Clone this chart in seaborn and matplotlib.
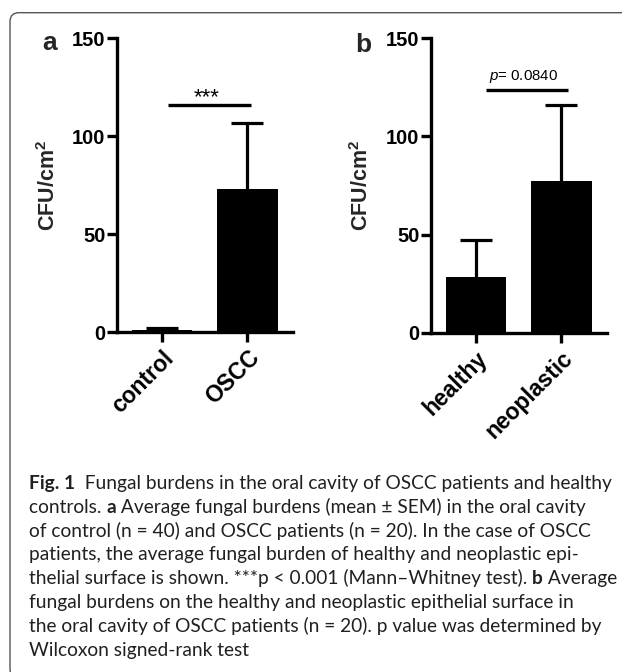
import numpy as np
import pandas as pd
import matplotlib
matplotlib.use("Agg")
import matplotlib.pyplot as plt
import seaborn as sns
from matplotlib.patches import FancyBboxPatch
from matplotlib.transforms import IdentityTransform

# ---------------- data ----------------
cats_a = ["control", "OSCC"]
mean_a = [1.2, 73.0]
sem_a = [1.0, 33.5]

cats_b = ["healthy", "neoplastic"]
mean_b = [28.5, 77.5]
sem_b = [19.0, 38.2]

yticks = [0, 50, 100, 150]
sig_a = "***"
sig_b = r"$\mathit{p}$= 0.0840"
ylabel = r"CFU/cm$^{2}$"

caption_lines = [
    [("Fig. 1", True), ("  Fungal burdens in the oral cavity of OSCC patients and healthy", False)],
    [("controls. ", False), ("a", True), (" Average fungal burdens (mean \u00b1 SEM) in the oral cavity", False)],
    [("of control (n = 40) and OSCC patients (n = 20). In the case of OSCC", False)],
    [("patients, the average fungal burden of healthy and neoplastic epi-", False)],
    [("thelial surface is shown. ***p < 0.001 (Mann\u2013Whitney test). ", False), ("b", True), (" Average", False)],
    [("fungal burdens on the healthy and neoplastic epithelial surface in", False)],
    [("the oral cavity of OSCC patients (n = 20). p value was determined by", False)],
    [("Wilcoxon signed-rank test", False)],
]

# ---------------- style ----------------
sns.set_theme(style="white")
plt.rcParams["font.family"] = ["Liberation Sans", "DejaVu Sans"]
plt.rcParams["mathtext.fontset"] = "custom"
plt.rcParams["mathtext.rm"] = "Liberation Sans"
plt.rcParams["mathtext.it"] = "Liberation Sans:italic"
plt.rcParams["mathtext.bf"] = "Liberation Sans:bold"
plt.rcParams["mathtext.default"] = "regular"

W, H = 622, 672
fig = plt.figure(figsize=(W / 100, H / 100), dpi=100)
fig.patch.set_facecolor("white")


def px_axes(l, t, r, b):
    return fig.add_axes([l / W, 1 - b / H, (r - l) / W, (b - t) / H])


def panel(ax, cats, means, sems, sx0, sx1, sy, stext, tx, ty, tsize):
    df = pd.DataFrame({"cat": cats, "val": means})
    sns.barplot(data=df, x="cat", y="val", color="black", width=0.7,
                errorbar=None, ax=ax, saturation=1, linewidth=0)
    _, caps, _ = ax.errorbar(x=np.arange(len(cats)), y=means,
                             yerr=[np.zeros(len(cats)), sems], fmt="none",
                             ecolor="black", elinewidth=2.3, capsize=11.5,
                             capthick=2.3, zorder=3)
    if len(caps) == 2:
        caps[0].set_visible(False)
    ax.plot([sx0, sx1], [sy, sy], color="black", lw=2.4,
            solid_capstyle="butt", clip_on=False)
    ax.text(tx, ty, stext, ha="center", va="baseline", fontsize=tsize,
            color="black", clip_on=False)
    ax.set_ylim(0, 150)
    ax.set_xlim(-0.52, 1.53)
    ax.set_yticks(yticks)
    ax.set_yticklabels([str(v) for v in yticks], fontweight="bold", fontsize=14.5)
    ax.set_xticks(range(len(cats)))
    ax.set_xticklabels(cats, rotation=45, ha="right", rotation_mode="anchor",
                       fontweight="bold", fontsize=16.5)
    ax.set_xlabel("")
    ax.set_ylabel("")
    for s in ["top", "right"]:
        ax.spines[s].set_visible(False)
    for s in ["left", "bottom"]:
        ax.spines[s].set_linewidth(2.4)
        ax.spines[s].set_color("black")
        ax.spines[s].set_zorder(4)
    ax.tick_params(axis="both", direction="out", length=7.2, width=2.4,
                   color="black", pad=1, left=True, bottom=True,
                   labelcolor="black")
    ax.tick_params(axis="x", pad=3)
    ax.set_facecolor("none")


ax_a = px_axes(117, 38, 293, 332)
ax_b = px_axes(431, 38, 607, 333)

panel(ax_a, cats_a, mean_a, sem_a, 0.07, 1.035, 116, sig_a, 0.52, 116.5, 16)
panel(ax_b, cats_b, mean_b, sem_b, 0.115, 1.07, 123.7, sig_b, 0.56, 128.4, 10.8)

# panel letters and y labels
fig.text(42 / W, 1 - 50 / H, "a", fontsize=19, fontweight="bold", ha="left", va="baseline")
fig.text(355 / W, 1 - 52 / H, "b", fontsize=19, fontweight="bold", ha="left", va="baseline")
fig.text(49 / W, 1 - 185 / H, ylabel, rotation=90, fontsize=15.5, fontweight="bold",
         ha="center", va="center")
fig.text(362 / W, 1 - 185 / H, ylabel, rotation=90, fontsize=15.5, fontweight="bold",
         ha="center", va="center")

# frame
frame = FancyBboxPatch((10, -6), 900, H - 12.7 + 6,
                       boxstyle="round,pad=0,rounding_size=9",
                       transform=IdentityTransform(), facecolor="none",
                       edgecolor="#555555", lw=1.0)
fig.add_artist(frame)

# caption
CAP_FONT = ["Lato", "DejaVu Sans"]
renderer = fig.canvas.get_renderer()


def measure(txt, bold, size):
    t = fig.text(0, 0, txt, fontsize=size, family=CAP_FONT,
                 fontweight="bold" if bold else "normal")
    w = t.get_window_extent(renderer).width
    t.remove()
    return w


def line_width(segs, size):
    total = 0
    for txt, bold in segs:
        total += measure(txt + "|", bold, size) - measure("|", bold, size)
    return total


base = 12.0
wmax = max(line_width(caption_lines[0], base), line_width(caption_lines[4], base))
cap_size = base * 588.0 / wmax

x0 = 29
y0 = 489
dy = 23.8
for i, segs in enumerate(caption_lines):
    x = x0
    y = y0 + i * dy
    for txt, bold in segs:
        fig.text(x / W, 1 - y / H, txt, fontsize=cap_size, family=CAP_FONT,
                 fontweight="bold" if bold else "normal", ha="left",
                 va="baseline", color="#231f20")
        x += measure(txt + "|", bold, cap_size) - measure("|", bold, cap_size)

fig.savefig("out.png", dpi=100, facecolor="white")
